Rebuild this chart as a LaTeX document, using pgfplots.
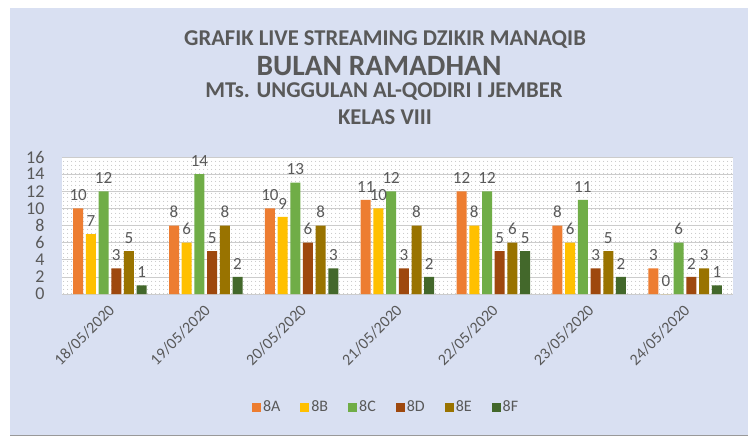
\documentclass[border=0pt]{standalone}
\usepackage{fontspec}
\setmainfont{Carlito}
\usepackage{pgfplots}
\pgfplotsset{compat=1.18}
\usetikzlibrary{patterns.meta}
\definecolor{bgc}{HTML}{D9E0F2}
\definecolor{txt}{HTML}{595959}
\definecolor{cA}{HTML}{ED7D31}
\definecolor{cB}{HTML}{FFC000}
\definecolor{cC}{HTML}{70AD47}
\definecolor{cD}{HTML}{9E480E}
\definecolor{cE}{HTML}{997300}
\definecolor{cF}{HTML}{43682B}
\begin{document}
\begin{tikzpicture}[x=1pt,y=1pt]
\useasboundingbox (0,0) rectangle (748,437);
\fill[white] (0,0) rectangle (748,437);
\fill[bgc] (10,2) rectangle (748,429);
\draw[gray!80,line width=1pt] (10,1.5) -- (748,1.5);
\node[txt,font=\fontsize{22.6}{22.6}\selectfont\bfseries] at (385,397) {GRAFIK LIVE STREAMING DZIKIR MANAQIB};
\node[txt,font=\fontsize{29.5}{29.5}\selectfont\bfseries] at (379,371) {BULAN RAMADHAN};
\node[txt,font=\fontsize{22.6}{22.6}\selectfont\bfseries] at (384,345) {MTs. UNGGULAN AL-QODIRI I JEMBER};
\node[txt,font=\fontsize{22.6}{22.6}\selectfont\bfseries] at (385,320) {KELAS VIII};
\begin{axis}[
  at={(62pt,143pt)}, anchor=south west,
  width=671pt, height=137pt, scale only axis,
  xmin=-0.5, xmax=6.5, ymin=0, ymax=16,
  ytick={0,2,...,16},
  xtick={0,...,6},
  xticklabels={18/05/2020,19/05/2020,20/05/2020,21/05/2020,22/05/2020,23/05/2020,24/05/2020},
  /pgf/number format/assume math mode=true,
  ymajorgrids, grid style={gray!40, line width=0.6pt},
  axis line style={draw=none},
  major tick style={draw=none},
  axis background/.style={preaction={fill=white}, pattern={Dots[distance=4pt, radius=0.5pt]}, pattern color=black!35},
  ybar=2.7pt, bar width=10pt,
  ticklabel style={font=\fontsize{18}{18}\selectfont, text=txt},
  yticklabel style={xshift=-14pt},
  xticklabel style={font=\fontsize{16}{16}\selectfont, rotate=45, anchor=east, xshift=-2pt, yshift=-8pt},
  nodes near coords,
  every node near coord/.append style={font=\fontsize{17}{17}\selectfont, text=txt, inner sep=1.5pt, yshift=6pt},
  legend columns=6,
  legend style={at={(0.483,-0.825)}, anchor=center, draw=none, fill=none, font=\fontsize{16}{16}\selectfont, text=txt,
     /tikz/every even column/.append style={column sep=18pt}},
  legend image code/.code={\fill[#1,draw=none] (0pt,-4.5pt) rectangle (9pt,4.5pt);},
]
\addplot[fill=cA,draw=none] coordinates {(0,10) (1,8) (2,10) (3,11) (4,12) (5,8) (6,3)};
\addplot[fill=cB,draw=none] coordinates {(0,7) (1,6) (2,9) (3,10) (4,8) (5,6) (6,0)};
\addplot[fill=cC,draw=none] coordinates {(0,12) (1,14) (2,13) (3,12) (4,12) (5,11) (6,6)};
\addplot[fill=cD,draw=none] coordinates {(0,3) (1,5) (2,6) (3,3) (4,5) (5,3) (6,2)};
\addplot[fill=cE,draw=none] coordinates {(0,5) (1,8) (2,8) (3,8) (4,6) (5,5) (6,3)};
\addplot[fill=cF,draw=none] coordinates {(0,1) (1,2) (2,3) (3,2) (4,5) (5,2) (6,1)};
\legend{8A,8B,8C,8D,8E,8F}
\end{axis}
\end{tikzpicture}
\end{document}
